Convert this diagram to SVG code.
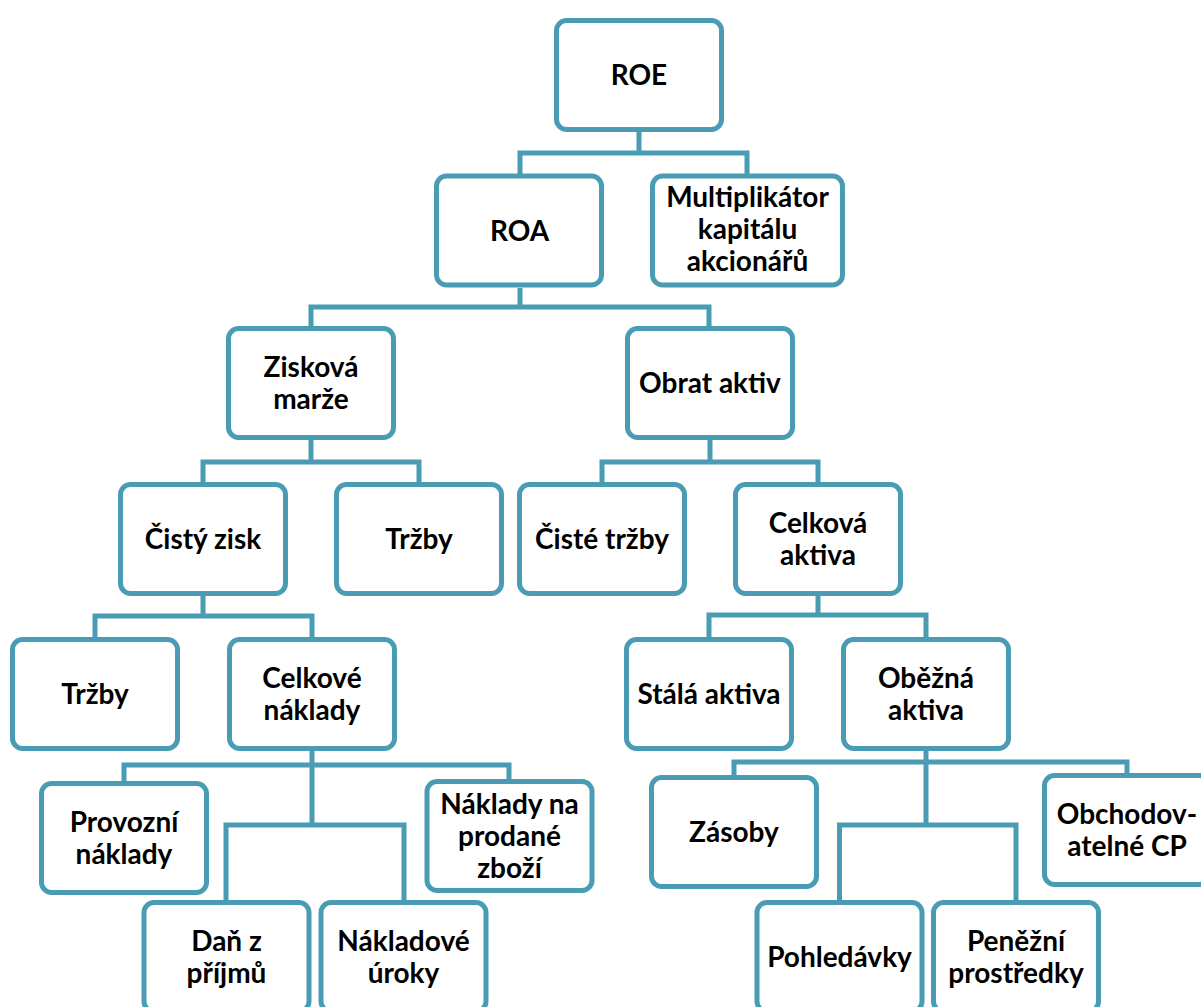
<svg xmlns="http://www.w3.org/2000/svg" width="1201" height="1007" viewBox="0 0 1201 1007">
<style>
.box{fill:#ffffff;stroke:#4A9CB5;stroke-width:5}
.con{fill:none;stroke:#4A9CB5;stroke-width:5;stroke-linejoin:miter}
text{font-family:Lato,"Open Sans","Liberation Sans",sans-serif;font-weight:bold;font-size:28px;fill:#000;text-anchor:middle}
</style>
<rect width="1201" height="1007" fill="#ffffff"/>
<g id="connectors">
<path class="con" d="M520 174 V153 H747 V174 M639 132 V153"/>
<path class="con" d="M311 326 V307 H709 V326 M520 288 V307"/>
<path class="con" d="M203 482 V462 H419 V482 M311 440 V462"/>
<path class="con" d="M602 482 V462 H818 V482 M710 440 V462"/>
<path class="con" d="M95 637 V616 H312 V637 M203 596 V616"/>
<path class="con" d="M709 637 V615 H926 V637 M818 596 V615"/>
<path class="con" d="M124 781 V765 H509 V779 M312 751 V825 M226 900 V825 H404 V900"/>
<path class="con" d="M734 775 V762 H1127 V773 M926 751 V825 M839.5 900 V825 H1016 V900"/>
</g>
<g id="roe"><rect class="box" x="556.5" y="20.5" width="165" height="109" rx="10"/><text x="639" y="85">ROE</text></g>
<g id="roa"><rect class="box" x="436.5" y="176" width="165" height="109" rx="10"/><text x="519.5" y="240.5">ROA</text></g>
<g id="multiplikator"><rect class="box" x="652.5" y="176" width="190" height="109" rx="10"/><text x="747.5" y="207">Multiplikátor</text><text x="747.5" y="239">kapitálu</text><text x="747.5" y="271">akcionářů</text></g>
<g id="ziskova-marze"><rect class="box" x="228.5" y="328.5" width="165" height="109" rx="10"/><text x="311" y="377">Zisková</text><text x="311" y="409">marže</text></g>
<g id="obrat-aktiv"><rect class="box" x="627.5" y="328.5" width="165" height="109" rx="10"/><text x="710" y="393">Obrat aktiv</text></g>
<g id="cisty-zisk"><rect class="box" x="120.5" y="484.5" width="165" height="109" rx="10"/><text x="203" y="549">Čistý zisk</text></g>
<g id="trzby-1"><rect class="box" x="336.5" y="484.5" width="165" height="109" rx="10"/><text x="419" y="549">Tržby</text></g>
<g id="ciste-trzby"><rect class="box" x="519.5" y="484.5" width="165" height="109" rx="10"/><text x="602" y="549">Čisté tržby</text></g>
<g id="celkova-aktiva"><rect class="box" x="735.5" y="484.5" width="165" height="109" rx="10"/><text x="818" y="533">Celková</text><text x="818" y="565">aktiva</text></g>
<g id="trzby-2"><rect class="box" x="12.5" y="639.5" width="165" height="109" rx="10"/><text x="95" y="704">Tržby</text></g>
<g id="celkove-naklady"><rect class="box" x="229.5" y="639.5" width="165" height="109" rx="10"/><text x="312" y="688">Celkové</text><text x="312" y="720">náklady</text></g>
<g id="stala-aktiva"><rect class="box" x="626.5" y="639.5" width="165" height="109" rx="10"/><text x="709" y="704">Stálá aktiva</text></g>
<g id="obezna-aktiva"><rect class="box" x="843.5" y="639.5" width="165" height="109" rx="10"/><text x="926" y="688">Oběžná</text><text x="926" y="720">aktiva</text></g>
<g id="provozni-naklady"><rect class="box" x="41.5" y="783.5" width="165" height="109" rx="10"/><text x="124" y="832">Provozní</text><text x="124" y="864">náklady</text></g>
<g id="naklady-prodane-zbozi"><rect class="box" x="427" y="781.5" width="165" height="109" rx="10"/><text x="509.5" y="814">Náklady na</text><text x="509.5" y="846">prodané</text><text x="509.5" y="878">zboží</text></g>
<g id="dan-z-prijmu"><rect class="box" x="144" y="902.5" width="165" height="109" rx="10"/><text x="226.5" y="951">Daň z</text><text x="226.5" y="983">příjmů</text></g>
<g id="nakladove-uroky"><rect class="box" x="321" y="902.5" width="165" height="109" rx="10"/><text x="403.5" y="951">Nákladové</text><text x="403.5" y="983">úroky</text></g>
<g id="zasoby"><rect class="box" x="651.5" y="777.5" width="165" height="109" rx="10"/><text x="734" y="842">Zásoby</text></g>
<g id="obchodovatelne-cp"><rect class="box" x="1044.5" y="775.5" width="165" height="109" rx="10"/><text x="1127" y="824">Obchodov-</text><text x="1127" y="856">atelné CP</text></g>
<g id="pohledavky"><rect class="box" x="757" y="902.5" width="165" height="109" rx="10"/><text x="839.5" y="967">Pohledávky</text></g>
<g id="penezni-prostredky"><rect class="box" x="933.5" y="902.5" width="165" height="109" rx="10"/><text x="1016" y="951">Peněžní</text><text x="1016" y="983">prostředky</text></g>
</svg>
